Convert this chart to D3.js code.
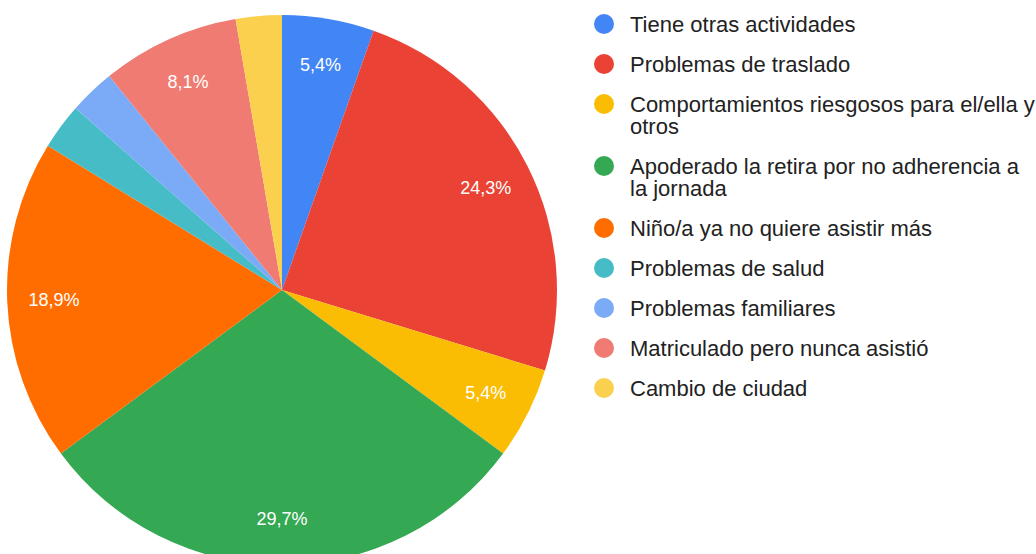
<!DOCTYPE html>
<html>
<head>
<meta charset="utf-8">
<script src="https://cdn.jsdelivr.net/npm/d3@7"></script>
<style>
  body { margin: 0; background: #fff; }
  text { font-family: "Liberation Sans", Arial, Helvetica, sans-serif; }
</style>
</head>
<body>
<div class="chart"></div>
<script>
const categories = [
  "Tiene otras actividades",
  "Problemas de traslado",
  "Comportamientos riesgosos para el/ella y otros",
  "Apoderado la retira por no adherencia a la jornada",
  "Niño/a ya no quiere asistir más",
  "Problemas de salud",
  "Problemas familiares",
  "Matriculado pero nunca asistió",
  "Cambio de ciudad"
];
const counts = [2, 9, 2, 11, 7, 1, 1, 3, 1];
const colors = ["#4285f4", "#ea4335", "#fbbc04", "#34a853", "#ff6d01", "#46bdc6", "#7baaf7", "#f07b72", "#fcd04f"];

const width = 1036;
const height = 554;
const radius = 275;
const cx = 282;
const cy = 290;

const total = d3.sum(counts);
const items = categories.map((c, i) => ({ name: c, value: counts[i], color: colors[i] }));

const svg = d3
  .select(".chart")
  .append("svg")
  .attr("width", width)
  .attr("height", height);

const pie = d3.pie().value(d => d.value).sort(null);
const arc = d3.arc().innerRadius(0).outerRadius(radius);
const labelArc = d3.arc().innerRadius(radius * 0.83).outerRadius(radius * 0.83);

const g = svg.append("g").attr("transform", `translate(${cx}, ${cy})`);
const arcs = pie(items);

g.selectAll("path")
  .data(arcs)
  .enter()
  .append("path")
  .attr("d", arc)
  .attr("fill", d => d.data.color);

const fmt = v => (v * 100).toFixed(1).replace(".", ",") + "%";

g.selectAll("text.pct")
  .data(arcs.filter(d => d.data.value / total > 0.04))
  .enter()
  .append("text")
  .attr("class", "pct")
  .attr("transform", d => `translate(${labelArc.centroid(d)})`)
  .attr("text-anchor", "middle")
  .attr("dy", "0.35em")
  .attr("fill", "#fff")
  .style("font-size", "18px")
  .text(d => fmt(d.data.value / total));

// legend
const legend = svg.append("g").attr("transform", "translate(604, 24)");
const maxWidth = 406;
const lineStep = 22;
let y = 0;
items.forEach(item => {
  const row = legend.append("g").attr("transform", `translate(0, ${y})`);
  row.append("circle").attr("r", 10).attr("fill", item.color);
  const text = row
    .append("text")
    .attr("x", 26)
    .attr("fill", "#222")
    .style("font-size", "22px");
  const words = item.name.split(" ");
  let line = [];
  let lines = 0;
  let tspan = text.append("tspan").attr("x", 26).attr("dy", "0.35em");
  words.forEach(w => {
    line.push(w);
    tspan.text(line.join(" "));
    if (tspan.node().getComputedTextLength() > maxWidth && line.length > 1) {
      line.pop();
      tspan.text(line.join(" "));
      line = [w];
      lines++;
      tspan = text.append("tspan").attr("x", 26).attr("dy", lineStep + "px").text(w);
    }
  });
  y += 40 + lines * lineStep;
});
</script>
</body>
</html>
